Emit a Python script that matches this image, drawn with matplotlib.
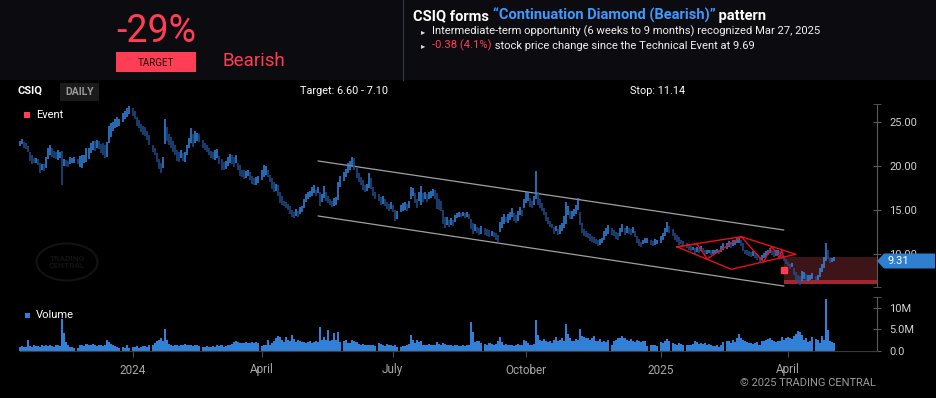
import numpy as np
import pandas as pd
import matplotlib
matplotlib.use("Agg")
import matplotlib.pyplot as plt
from matplotlib.patches import Rectangle, Ellipse, Polygon

plt.rcParams['font.family'] = ['Roboto', 'DejaVu Sans']

# ---- data ----
start = '2023-10-16'
end = '2025-05-02'
holidays = ['2023-11-23', '2023-12-25', '2024-01-01', '2024-01-15', '2024-02-19',
            '2024-03-29', '2024-05-27', '2024-06-19', '2024-07-04', '2024-09-02',
            '2024-11-28', '2024-12-25', '2025-01-01', '2025-01-09', '2025-01-20',
            '2025-02-17', '2025-04-18']

low = [
    22.3, 22.5, 22.0, 21.9, 21.6, 20.6, 20.2, 20.3, 20.4, 20.1, 19.2, 19.5,  # oct 23
    19.4, 19.8, 20.8, 21.2, 21.0, 20.9, 20.8, 20.7, 20.9, 17.8, 20.0, 20.0, 19.9, 20.2, 20.3, 20.4, 20.2, 19.9, 19.8, 20.3, 20.5,
    20.8, 21.5, 21.8, 21.7, 22.0, 21.9, 21.5, 21.3, 20.9, 21.0, 22.6, 23.3, 24.0, 24.3, 24.4, 24.6, 25.0, 25.3, 25.6, 25.9,
    25.7, 25.3, 24.6, 24.3, 23.9, 23.5, 23.4, 23.0, 22.4, 21.6, 21.2, 20.5, 19.7, 19.2, 19.8, 22.5, 22.8, 22.4, 22.0, 21.6, 21.2,
    20.6, 20.5, 20.9, 20.6, 20.5, 21.2, 22.0, 22.6, 22.2, 22.6, 22.8, 22.7, 22.0, 21.8, 21.6, 21.2, 20.9, 20.8, 20.7, 20.9,
    20.2, 19.6, 19.5, 19.7, 20.0, 20.3, 20.2, 19.9, 20.4, 19.5, 18.9, 18.8, 18.5, 18.6, 18.9, 18.4, 18.0, 17.8, 17.9, 18.1,
    18.4, 18.8, 19.0, 18.7, 18.2, 17.4, 17.0, 17.2, 16.6, 15.8, 15.6, 15.4, 15.2, 15.0, 14.6, 14.2, 14.1, 14.3, 14.2, 14.6, 14.8, 15.2,
    15.9, 16.2, 16.5, 16.6, 16.9, 16.6, 16.9, 15.5, 15.9, 16.4, 16.0, 15.8, 15.6, 15.3, 15.5, 15.6, 16.1, 17.6, 18.3, 18.8, 19.2, 19.6,
    20.0, 19.6, 18.6, 18.2, 17.8, 17.3, 17.0, 17.2, 17.5, 17.4, 16.6, 16.2, 16.0, 15.6, 15.7, 15.5, 15.1, 14.9, 15.1,
    14.8, 13.7, 14.0, 14.8, 14.9, 15.0, 14.9, 15.2, 16.3, 16.6, 15.8, 15.2, 16.0, 15.6, 15.9, 16.2, 15.9, 16.2, 16.4, 16.6, 16.2, 15.1,
    15.0, 14.9, 13.4, 13.0, 13.3, 13.1, 13.3, 13.2, 13.6, 14.1, 14.2, 14.2, 14.3, 14.1, 14.2, 14.0, 12.8, 12.3, 12.6, 12.4, 12.2, 12.3,
    12.2, 12.0, 11.9, 12.1, 11.9, 11.6, 11.4, 12.5, 12.9, 13.4, 13.6, 13.5, 13.9, 14.2, 13.8, 13.5, 13.8, 14.4, 14.3, 15.2,
    15.8, 16.0, 15.3, 15.2, 15.6, 16.2, 15.6, 15.2, 14.9, 14.4, 13.8, 13.4, 13.1, 12.9, 12.3, 12.6, 12.2, 12.3, 12.6, 13.0, 13.4, 14.4, 14.0,
    14.0, 14.3, 14.6, 15.0, 13.3, 12.4, 12.1, 11.9, 11.8, 11.5, 11.4, 11.3, 11.1, 10.9, 11.0, 11.2, 11.6, 12.0, 12.3, 12.2,
    12.0, 11.7, 11.6, 12.1, 12.5, 12.2, 12.4, 12.3, 12.2, 12.4, 11.9, 11.3, 10.9, 10.8, 11.1, 11.2, 11.3, 11.0, 10.9, 11.0, 11.1,
    11.3, 11.6, 12.0, 12.5, 12.4, 12.0, 11.6, 11.4, 11.0, 11.1, 10.9, 10.7, 10.5, 10.3, 10.4, 10.0, 10.2, 10.1, 10.3, 10.2,
    9.9, 10.0, 10.1, 9.9, 10.0, 10.0, 10.1, 10.0, 10.2, 10.4, 10.6, 10.8, 10.7, 10.9, 11.0, 11.2, 11.3, 10.9, 10.3,
    10.0, 9.9, 9.8, 9.7, 9.8, 9.5, 9.3, 9.1, 9.3, 9.6, 9.7, 9.9, 10.1, 9.9, 9.7, 9.8, 9.9, 9.7, 9.4, 9.2, 8.9,
    8.6, 8.3, 8.5, 7.6, 7.0, 6.6, 6.5, 6.9, 7.2, 6.8, 6.9, 7.0, 7.2, 7.0, 7.1, 7.4, 7.9, 8.4, 9.2, 9.4, 9.0,
    9.1, 9.2,
]
high = [
    22.9, 23.1, 22.7, 22.6, 22.3, 21.6, 21.2, 20.9, 20.9, 20.8, 20.3, 20.2,
    20.2, 21.0, 22.0, 22.4, 22.0, 21.7, 21.6, 21.8, 21.6, 21.7, 20.8, 20.7, 20.6, 21.0, 20.9, 21.0, 20.8, 21.1, 21.3, 21.2, 22.0,
    22.0, 22.6, 22.9, 22.8, 23.0, 22.8, 22.5, 22.6, 22.4, 22.7, 24.5, 24.9, 25.0, 25.3, 25.6, 25.4, 26.0, 26.2, 26.6, 26.8,
    26.6, 26.2, 25.6, 25.2, 24.8, 24.5, 24.4, 24.0, 23.5, 22.4, 22.0, 21.5, 20.8, 20.3, 21.0, 25.4, 24.4, 23.6, 23.3, 22.8, 22.4,
    21.8, 21.6, 21.8, 21.5, 21.6, 22.4, 23.2, 24.3, 23.6, 24.0, 23.8, 23.6, 23.0, 22.6, 22.4, 22.0, 21.7, 21.6, 21.8, 21.9,
    21.1, 20.8, 20.5, 20.6, 21.0, 21.4, 21.2, 21.0, 21.3, 20.4, 20.1, 19.6, 19.5, 19.4, 19.6, 19.3, 18.9, 18.6, 18.8, 18.9,
    19.6, 20.1, 20.0, 19.6, 19.0, 18.6, 18.2, 18.0, 17.9, 17.0, 16.6, 16.0, 15.9, 15.7, 15.4, 15.0, 14.8, 15.1, 14.9, 15.3, 15.5, 16.2,
    16.8, 17.0, 17.2, 17.6, 17.8, 17.3, 17.6, 17.0, 16.8, 17.7, 17.0, 16.6, 16.2, 16.0, 16.4, 16.5, 18.2, 18.9, 19.3, 19.7, 20.4, 20.6,
    21.0, 20.9, 19.8, 19.2, 18.7, 18.4, 17.9, 18.0, 19.2, 18.6, 17.6, 17.1, 16.8, 16.5, 16.6, 16.3, 15.9, 15.7, 15.9,
    15.6, 15.0, 14.9, 15.6, 15.8, 15.9, 15.7, 16.0, 17.6, 17.5, 16.9, 16.3, 17.0, 17.7, 16.9, 17.0, 16.8, 17.0, 17.2, 17.4, 17.3, 16.9,
    16.3, 16.0, 15.0, 14.2, 14.2, 13.9, 14.1, 13.9, 14.4, 14.7, 14.8, 14.7, 14.8, 14.7, 14.8, 14.6, 14.0, 13.5, 13.4, 13.1, 13.0, 13.2,
    12.9, 12.8, 12.7, 12.6, 12.5, 12.4, 12.2, 13.6, 14.2, 14.5, 14.2, 14.6, 14.8, 15.2, 14.7, 14.4, 14.9, 15.3, 15.0, 16.3,
    17.0, 17.1, 16.4, 16.0, 16.6, 19.4, 17.0, 16.2, 15.8, 15.2, 14.8, 14.2, 13.8, 13.4, 13.1, 13.2, 12.8, 13.3, 13.5, 14.3, 15.9, 15.4, 14.9,
    14.9, 15.1, 15.6, 16.4, 14.8, 13.5, 12.8, 12.6, 12.4, 12.3, 12.1, 11.9, 11.7, 11.6, 11.7, 11.8, 12.6, 13.0, 13.3, 12.9,
    12.7, 12.5, 12.4, 12.9, 13.4, 13.0, 13.2, 13.0, 12.8, 13.1, 12.6, 12.1, 11.7, 11.4, 11.6, 11.8, 11.8, 11.6, 11.5, 11.7, 11.6,
    12.0, 12.4, 12.9, 13.6, 13.2, 12.8, 12.4, 12.2, 11.9, 11.6, 11.5, 11.2, 11.0, 10.9, 10.8, 10.7, 10.8, 10.7, 10.9, 10.7,
    10.5, 10.5, 10.5, 10.4, 10.4, 10.5, 10.6, 10.5, 10.9, 11.2, 11.3, 11.5, 11.4, 11.6, 11.6, 11.8, 11.9, 11.6, 11.2,
    10.5, 10.4, 10.3, 10.2, 10.3, 10.1, 9.9, 9.7, 9.9, 10.1, 10.3, 10.5, 10.7, 10.4, 10.3, 10.4, 10.5, 10.3, 10.0, 9.7, 9.4,
    9.1, 8.9, 9.0, 8.4, 8.0, 7.6, 7.5, 8.1, 7.9, 7.7, 7.6, 7.6, 7.8, 7.5, 7.6, 8.4, 8.9, 9.7, 11.3, 10.4, 9.6,
    9.6, 9.7,
]
# volume in millions
volume = [
    1.0, 1.1, 0.9, 1.0, 2.5, 1.2, 1.0, 1.3, 1.1, 1.2, 1.0, 1.3,
    1.2, 1.4, 1.1, 1.3, 1.2, 1.0, 1.4, 1.3, 1.2, 7.4, 4.1, 2.1, 1.5, 1.0, 0.9, 0.8, 0.7, 1.3, 1.5, 1.2, 1.6,
    1.5, 1.4, 1.6, 1.3, 1.2, 1.5, 1.3, 1.1, 1.4, 2.6, 2.0, 1.6, 1.3, 1.2, 0.9, 0.7, 1.0, 0.6, 1.4, 0.8,
    0.9, 1.0, 1.1, 0.8, 1.0, 1.2, 1.1, 1.0, 1.3, 1.5, 1.8, 2.2, 2.6, 3.0, 2.4, 5.1, 2.5, 1.6, 1.4, 1.2, 1.3,
    1.4, 1.2, 1.3, 1.5, 1.6, 1.4, 1.3, 1.5, 1.2, 1.4, 1.3, 1.2, 1.0, 0.9, 1.1, 1.0, 0.9, 1.2, 1.0, 1.3,
    1.1, 1.3, 1.0, 1.2, 1.5, 1.3, 1.7, 2.0, 2.4, 2.0, 1.9, 1.8, 1.9, 2.0, 1.8, 1.9, 2.0, 1.8, 2.1, 1.9,
    1.2, 1.3, 1.5, 2.6, 1.5, 1.8, 2.4, 3.0, 3.5, 3.3, 2.6, 2.0, 3.3, 2.5, 2.4, 3.7, 2.8, 2.0, 2.5, 2.2, 2.0, 2.1,
    1.9, 2.0, 2.2, 1.8, 2.0, 2.4, 2.1, 5.5, 2.6, 3.3, 2.5, 4.8, 2.3, 2.6, 4.1, 2.5, 4.5, 2.0, 2.2, 2.6, 1.9, 1.8,
    2.6, 2.4, 2.0, 1.6, 1.5, 1.7, 1.4, 1.5, 1.3, 1.4, 1.5, 1.2, 1.8, 1.7, 1.4, 1.2, 1.6, 1.5, 1.3,
    1.2, 1.3, 0.9, 1.0, 1.1, 1.2, 1.3, 1.6, 3.7, 2.6, 1.8, 2.5, 2.0, 2.2, 1.4, 1.3, 1.5, 1.6, 1.3, 1.5, 1.4, 2.0,
    1.6, 1.5, 1.8, 1.7, 1.4, 1.5, 1.3, 1.2, 1.4, 1.3, 1.1, 1.2, 1.4, 1.2, 1.3, 1.5, 6.7, 4.3, 2.0, 2.4, 2.2, 1.9,
    1.7, 1.5, 1.8, 1.6, 1.4, 1.7, 2.2, 3.3, 2.0, 1.5, 1.6, 1.3, 1.5, 1.4, 1.2, 1.4, 1.6, 1.4, 1.5, 2.6,
    2.2, 1.8, 1.5, 1.4, 1.6, 7.2, 3.7, 2.5, 2.4, 2.8, 2.2, 2.0, 2.4, 1.9, 2.6, 3.3, 2.2, 2.6, 3.0, 2.4, 6.2, 4.0, 3.0,
    2.4, 2.2, 2.8, 2.5, 5.0, 3.4, 3.2, 3.0, 2.9, 2.6, 3.1, 3.5, 2.4, 2.2, 2.8, 2.0, 2.3, 2.1, 2.6, 1.3,
    2.2, 2.6, 2.9, 3.0, 3.4, 3.1, 2.6, 2.4, 2.8, 2.3, 2.0, 2.5, 2.2, 2.0, 2.4, 2.2, 1.1, 1.4, 1.3, 1.5, 1.2,
    2.0, 1.8, 2.4, 2.7, 2.2, 1.9, 1.6, 1.4, 1.8, 1.7, 1.5, 1.4, 1.5, 1.3, 1.6, 2.2, 2.0, 1.7, 1.9, 1.6,
    1.8, 1.5, 1.7, 1.4, 1.2, 1.1, 1.3, 1.0, 1.5, 2.0, 2.4, 2.2, 1.9, 2.6, 2.0, 3.0, 4.0, 3.0, 2.6,
    2.2, 2.0, 1.8, 1.9, 1.6, 1.8, 2.0, 1.5, 2.4, 2.2, 2.6, 2.8, 3.0, 2.6, 2.3, 2.0, 2.2, 2.4, 3.2, 2.6, 2.9,
    3.2, 3.0, 2.8, 3.5, 4.0, 4.7, 4.3, 3.8, 2.6, 3.0, 2.0, 2.4, 3.2, 2.7, 2.6, 1.8, 3.4, 2.5, 12.1, 4.8, 2.4,
    2.0, 1.8,
]
last_price = 9.31

# channel and diamond pattern
channel_dates = ['2024-05-09', '2025-03-28']
channel_upper = [20.57, 12.73]
channel_lower = [14.32, 6.36]
diamond_dates = ['2025-01-14', '2025-02-27', '2025-04-07', '2025-02-20', '2025-01-14']
diamond_prices = [10.82, 11.97, 9.97, 8.26, 10.82]
zig_dates = ['2025-01-14', '2025-01-28', '2025-02-04', '2025-02-27', '2025-03-14',
             '2025-03-20', '2025-03-26', '2025-03-27', '2025-03-28']
zig_prices = [10.82, 11.15, 9.45, 11.97, 9.09, 10.85, 9.52, 10.45, 9.61]
event_date = '2025-03-28'
event_marker = 8.2
event_price = 9.69
target_lo, target_hi = 6.60, 7.10

month_ticks = ['2024-01-02', '2024-04-01', '2024-07-01', '2024-10-01', '2025-01-02', '2025-04-01']
month_labels = ['2024', 'April', 'July', 'October', '2025', 'April']

# ---- positions ----
days = pd.bdate_range(start, end)
days = days[~days.isin(pd.to_datetime(holidays))]
d0 = np.datetime64(start, 'D')


def xpos(d):
    return np.busday_count(d0, np.array(d, dtype='datetime64[D]'))


xs = xpos(days.values.astype('datetime64[D]'))
lo = np.array(low)
hi = np.array(high)
vol = np.array(volume)
mid = (lo + hi) / 2
up = np.r_[True, mid[1:] >= mid[:-1]]
cols = np.where(up, '#338ae6', '#1f4e8c')

W, H = 936, 398
PX = 2.015
xl = (-20 / PX, (877 - 20) / PX)

fig = plt.figure(figsize=(W / 100, H / 100), dpi=100, facecolor='black')

# price panel
ax = fig.add_axes([0, (H - 287) / H, 877 / W, 183 / H])
ax.set_facecolor('black')
ax.set_xlim(*xl)
ax.set_ylim(6.25, 27.05)
ax.vlines(xs, lo, hi, colors=cols, linewidth=1.1, zorder=3)

ax.plot(xpos(channel_dates), channel_upper, color='#a0a0a0', lw=0.9, zorder=2)
ax.plot(xpos(channel_dates), channel_lower, color='#a0a0a0', lw=0.9, zorder=2)
ax.plot(xpos(diamond_dates), diamond_prices, color='#e8101e', lw=1.0, zorder=4)
ax.plot(xpos(zig_dates), zig_prices, color='#e8101e', lw=1.0, zorder=4)

ex = xpos(event_date)
ax.add_patch(Rectangle((ex, target_hi), xl[1] - ex, event_price - target_hi,
                       color='#3d1418', lw=0, zorder=1))
ax.add_patch(Rectangle((ex, target_lo), xl[1] - ex, target_hi - target_lo,
                       color='#a3262f', lw=0, zorder=1))
ax.plot([ex], [event_marker], marker='s', ms=4.5, color='#ff3d55', zorder=5)

for s in ['top', 'left', 'bottom']:
    ax.spines[s].set_visible(False)
ax.spines['right'].set_color('#5a5a5a')
ax.set_xticks([])
ax.yaxis.tick_right()
ax.set_yticks([10, 15, 20, 25])
ax.set_yticklabels(['%.2f' % v for v in [10, 15, 20, 25]])
ax.set_yticks([6.25, 27.05], minor=True)
ax.tick_params(axis='y', which='both', direction='inout', length=6, color='#5a5a5a',
               labelcolor='#d0d0d0', labelsize=8, pad=6)

# volume panel
vax = fig.add_axes([0, (H - 351) / H, 877 / W, 54 / H])
vax.set_facecolor('none')
vax.set_xlim(*xl)
vax.set_ylim(0, 12.5)
vax.bar(xs, vol, width=1.0, color='#2f80d6', linewidth=0)
for s in ['top', 'left']:
    vax.spines[s].set_visible(False)
vax.spines['right'].set_color('#5a5a5a')
vax.spines['bottom'].set_color('#3a3a3a')
vax.spines['bottom'].set_bounds(0, xl[1])
vax.yaxis.tick_right()
vax.set_yticks([0, 5, 10])
vax.set_yticklabels(['0.0', '5.0M', '10M'])
vax.set_yticks([12.5], minor=True)
vax.tick_params(axis='y', which='both', direction='inout', length=6, color='#5a5a5a',
                labelcolor='#d0d0d0', labelsize=8, pad=6)
vax.set_xticks(xpos(month_ticks))
vax.set_xticklabels(month_labels)
vax.tick_params(axis='x', which='major', direction='out', length=4, color='#4a4a4a',
                labelcolor='#a8a8a8', labelsize=8.5, pad=5)

# overlay in pixel coordinates for header and labels
ov = fig.add_axes([0, 0, 1, 1])
ov.set_xlim(0, W)
ov.set_ylim(H, 0)
ov.axis('off')

ov.add_patch(Rectangle((0, 0), W, 80, color='#0c0c10', lw=0))
ov.plot([403, 403], [0, 80], color='#2c3c50', lw=0.8)
RED = '#ff3d55'
ov.text(156, 31, '-29%', color=RED, fontsize=27, ha='center', va='center')
ov.add_patch(Rectangle((116, 52), 80, 20, color=RED, lw=0))
ov.text(156, 62.5, 'TARGET', color='#1a0608', fontsize=7, ha='center', va='center')
ov.text(222, 61, 'Bearish', color=RED, fontsize=13.5, ha='left', va='center')

hs = 10.5
t = ov.text(413, 16, 'CSIQ forms ', color='white', fontsize=hs, fontweight='bold', va='center')
t = ov.annotate('\u201cContinuation Diamond (Bearish)\u201d', xy=(1, 0), xycoords=t,
                va='bottom', color='#3d9bff', fontsize=hs, fontweight='bold')
ov.annotate(' pattern', xy=(1, 0), xycoords=t, va='bottom', color='white',
            fontsize=hs, fontweight='bold')
bs = 8.1
ov.text(421, 32, '\u25b8', color='#dddddd', fontsize=6, va='center')
ov.text(432, 31, 'Intermediate-term opportunity (6 weeks to 9 months) recognized Mar 27, 2025',
        color='#f0f0f0', fontsize=bs, va='center')
ov.text(421, 46, '\u25b8', color='#dddddd', fontsize=6, va='center')
t = ov.text(432, 45, '-0.38 (4.1%)', color=RED, fontsize=bs, va='center')
ov.annotate(' stock price change since the Technical Event at 9.69', xy=(1, 0), xycoords=t,
            va='bottom', color='#f0f0f0', fontsize=bs)

ov.text(18, 91, 'CSIQ', color='white', fontsize=8, fontweight='bold', va='center')
ov.add_patch(Rectangle((60, 83), 39, 18, color='#1b1b1b', lw=0))
ov.text(79.5, 92, 'DAILY', color='#9a9a9a', fontsize=7.5, fontweight='bold',
        ha='center', va='center')
ov.text(300, 91, 'Target: 6.60 - 7.10', color='white', fontsize=7.8, va='center')
ov.text(630, 91, 'Stop: 11.14', color='white', fontsize=7.8, va='center')

ov.add_patch(Rectangle((24, 112), 6, 6, color=RED, lw=0))
ov.text(36, 115, 'Event', color='white', fontsize=8, va='center')
ov.add_patch(Rectangle((25, 313), 5, 5, color='#2f80d6', lw=0))
ov.text(36, 315.5, 'Volume', color='white', fontsize=8, va='center')

# last price tag (covers part of the 10.00 label, as in the source)
ov.add_patch(Polygon([(877, 261), (884, 253.5), (935, 253.5), (935, 268.5), (884, 268.5)],
                     closed=True, color='#2f7fd0', lw=0))
ov.text(888, 261, '%.2f' % last_price, color='white', fontsize=8, va='center')

# watermark
ov.add_patch(Ellipse((67, 262), 61, 37, fill=False, ec='#121212', lw=1.5))
ov.text(67, 262, 'TRADING\nCENTRAL', color='#121212', fontsize=6, fontweight='bold',
        ha='center', va='center', linespacing=0.9)

ov.text(876, 383, '\u00a9 2025 TRADING CENTRAL', color='#9a9a9a', fontsize=8,
        ha='right', va='center')

fig.savefig('out.png', dpi=100, facecolor='black')
